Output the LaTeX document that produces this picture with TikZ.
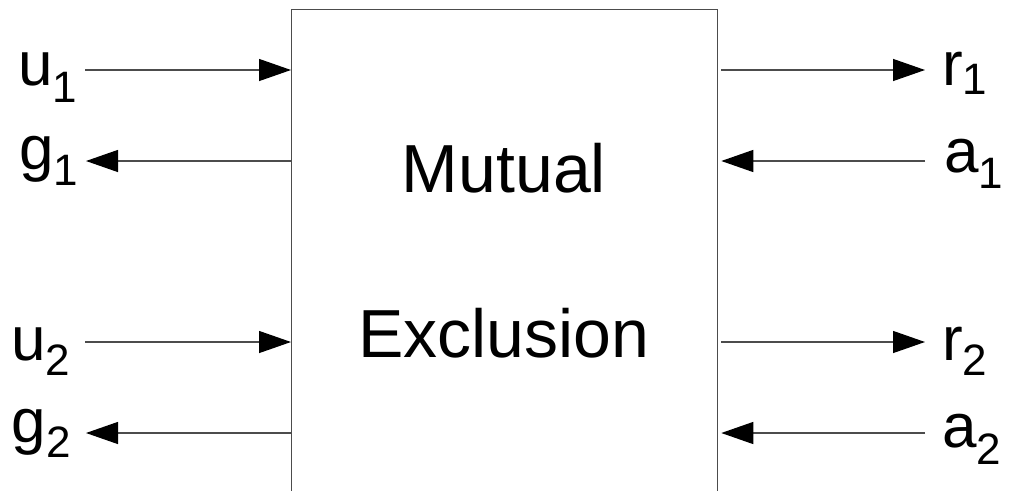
\documentclass[tikz,border=0pt]{standalone}
\usepackage{fontspec}
\setmainfont{Liberation Sans}
\usetikzlibrary{arrows.meta}
\newcommand\sublab[3]{#1\raisebox{-#3pt}{\fontsize{44}{44}\selectfont #2}}
\begin{document}
\begin{tikzpicture}[x=1pt,y=-1pt,
  wire/.style={line width=1.3pt, draw=black!70, -{Triangle[length=32pt,width=22pt,fill=black,color=black]}},
  boxline/.style={line width=1.3pt, draw=black!70},
  lbl/.style={anchor=base west, inner sep=0pt, outer sep=0pt, font=\fontsize{62}{62}\selectfont},
  big/.style={anchor=base, inner sep=0pt, font=\fontsize{68}{68}\selectfont}]
\clip (0,0) rectangle (1011,490);
\node[boxline, draw, anchor=north west, minimum width=426pt, minimum height=520pt, inner sep=0pt] (mx) at (291,9) {};
\node[big] (t1) at (504,192) {Mutual};
\node[big] (t2) at (504,357) {Exclusion};
% left labels
\node[lbl] (u1) at (18,85) {\sublab{u}{1}{17}};
\node[lbl] (g1) at (19,169) {\sublab{g}{1}{16}};
\node[lbl] (u2) at (11,360) {\sublab{u}{2}{15}};
\node[lbl] (g2) at (12,442) {\sublab{g}{2}{15}};
% right labels
\node[lbl] (r1) at (942,85) {\sublab{r}{1}{9}};
\node[lbl] (a1) at (944,172) {\sublab{a}{1}{16}};
\node[lbl] (r2) at (942,360) {\sublab{r}{2}{15}};
\node[lbl] (a2) at (942,447) {\sublab{a}{2}{17}};
% wire end points
\coordinate (pu1) at (85,70);
\coordinate (pg1) at (86,161);
\coordinate (pu2) at (85,342);
\coordinate (pg2) at (86,433);
\coordinate (pr1) at (925,70);
\coordinate (pa1) at (925,161);
\coordinate (pr2) at (925,342);
\coordinate (pa2) at (925,433);
\draw[wire] (pu1) -- (pu1 -| mx.west);
\draw[wire] (pg1 -| mx.west) -- (pg1);
\draw[wire] (pu2) -- (pu2 -| mx.west);
\draw[wire] (pg2 -| mx.west) -- (pg2);
\draw[wire] ([xshift=3pt]pr1 -| mx.east) -- (pr1);
\draw[wire] (pa1) -- ([xshift=3pt]pa1 -| mx.east);
\draw[wire] ([xshift=3pt]pr2 -| mx.east) -- (pr2);
\draw[wire] (pa2) -- ([xshift=3pt]pa2 -| mx.east);
\end{tikzpicture}
\end{document}
